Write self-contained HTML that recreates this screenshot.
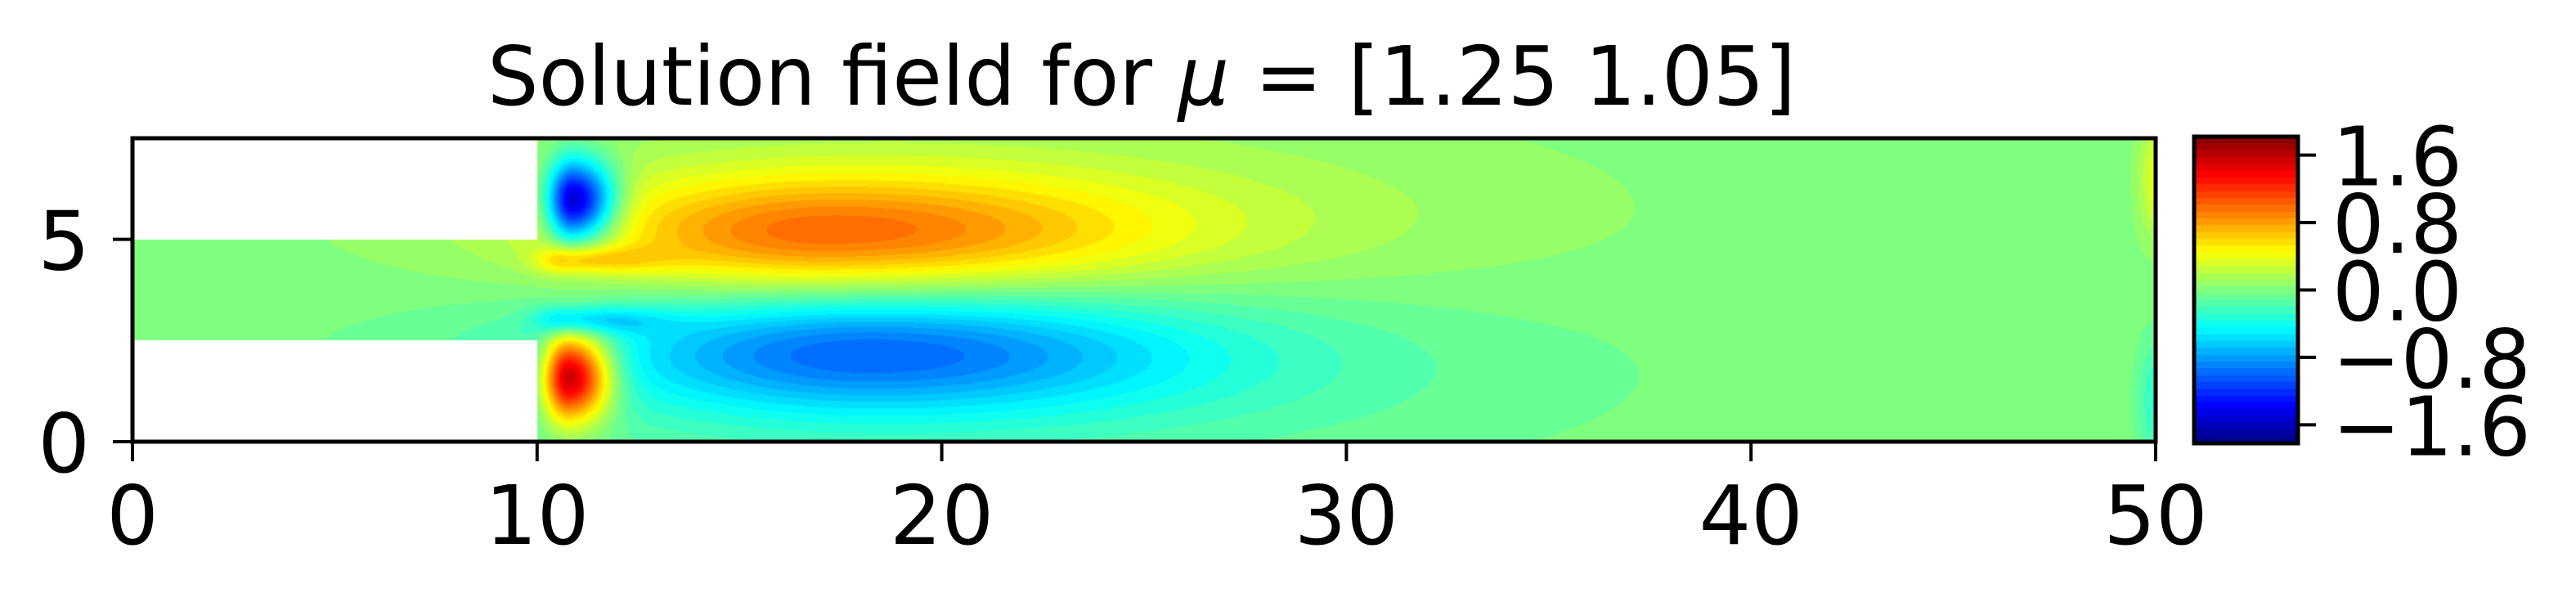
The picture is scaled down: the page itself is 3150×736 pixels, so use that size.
<!DOCTYPE html>
<html><head><meta charset="utf-8"><style>
html,body{margin:0;padding:0;background:#fff;}
#wrap{position:relative;width:3150px;height:736px;overflow:hidden;}
svg{position:absolute;left:0;top:0;}
canvas{position:absolute;}
</style></head><body>
<div id="wrap">
<canvas id="field"></canvas>
<canvas id="cbar"></canvas>
<svg id="svg" width="3150" height="736"></svg>
</div>
<script>
// ---- data ----
const xTicks = [0, 10, 20, 30, 40, 50];
const yTicks = [0, 5];
const cbTicks = [1.6, 0.8, 0.0, -0.8, -1.6];
const cbTickLabels = ["1.6", "0.8", "0.0", "\u22120.8", "\u22121.6"];
const vmin = -1.82, vmax = 1.82;
// flow field features: centre x, centre y, sigma-left, sigma-right, sigma-y, amplitude
const blobX   = [10.9, 10.8, 17.0, 10.7, 18.0, 10.7, 20.0, 20.0, 50.0, 50.0];
const blobY   = [5.95, 1.6, 5.1, 4.5, 2.25, 3.0, 5.4, 2.0, 6.5, 1.0];
const blobSL  = [0.45, 0.45, 4.0, 0.5, 4.5, 0.5, 8, 8, 0.3, 0.3];
const blobSR  = [0.7, 0.7, 5.5, 1.5, 5.5, 1.5, 9, 9, 0.3, 0.3];
const blobSY  = [0.7, 0.75, 1.0, 0.25, 1.05, 0.25, 1.8, 1.8, 1.0, 1.0];
const blobAmp = [-1.8, 1.85, 0.8, 0.55, -0.8, -0.6, 0.28, -0.28, 0.35, -0.3];

// ---- layout ----
const X0 = 162, X1 = 2636, Y0 = 540, Y1 = 169; // data x 0..50, y 0..7.5
const sx = v => X0 + (X1 - X0) * v / 50;
const sy = v => Y0 - (Y0 - Y1) * v / 7.5;
const CBX0 = 2683, CBX1 = 2810, CBY0 = 542, CBY1 = 167;
const cby = v => CBY0 - (CBY0 - CBY1) * (v - vmin) / (vmax - vmin);

function jet(t){
  t = Math.max(0, Math.min(1, t));
  const f = (a) => Math.max(0, Math.min(1, a));
  const r = f(1.5 - Math.abs(4*t - 3));
  const g = f(1.5 - Math.abs(4*t - 2));
  const b = f(1.5 - Math.abs(4*t - 1));
  return [r*255|0, g*255|0, b*255|0];
}
const NLEV = 45;
function colorOf(v){
  let t = (v - vmin) / (vmax - vmin);
  t = (Math.floor(t * NLEV) + 0.5) / NLEV;
  return jet(t);
}
function field(x, y){
  let v = 0;
  for (let i = 0; i < blobX.length; i++){
    const dx = x - blobX[i];
    const s = dx < 0 ? blobSL[i] : blobSR[i];
    const d = (dx*dx)/(s*s) + ((y-blobY[i])*(y-blobY[i]))/(blobSY[i]*blobSY[i]);
    v += blobAmp[i] * Math.exp(-0.5*d);
  }
  return v;
}

// field canvas
const fc = document.getElementById('field');
const W = X1 - X0, H = Y0 - Y1;
fc.width = W; fc.height = H;
fc.style.left = X0 + 'px'; fc.style.top = Y1 + 'px';
const ctx = fc.getContext('2d');
const img = ctx.createImageData(W, H);
for (let py = 0; py < H; py++){
  const y = 7.5 * (1 - (py + 0.5) / H);
  for (let px = 0; px < W; px++){
    const x = 50 * (px + 0.5) / W;
    const k = (py*W + px) * 4;
    if (x < 10 && (y > 5 || y < 2.5)){
      img.data[k]=255; img.data[k+1]=255; img.data[k+2]=255; img.data[k+3]=255; continue;
    }
    const c = colorOf(field(x, y));
    img.data[k]=c[0]; img.data[k+1]=c[1]; img.data[k+2]=c[2]; img.data[k+3]=255;
  }
}
ctx.putImageData(img, 0, 0);

// colorbar
const cc = document.getElementById('cbar');
cc.width = CBX1 - CBX0; cc.height = CBY0 - CBY1;
cc.style.left = CBX0 + 'px'; cc.style.top = CBY1 + 'px';
const c2 = cc.getContext('2d');
for (let py = 0; py < cc.height; py++){
  const v = vmax - (vmax - vmin) * (py + 0.5) / cc.height;
  const c = colorOf(v);
  c2.fillStyle = `rgb(${c[0]},${c[1]},${c[2]})`;
  c2.fillRect(0, py, cc.width, 1);
}

// svg axes
const svg = document.getElementById('svg');
const NS = 'http://www.w3.org/2000/svg';
function mk(tag, attrs, text){
  const e = document.createElementNS(NS, tag);
  for (const k in attrs) e.setAttribute(k, attrs[k]);
  if (text !== undefined) e.textContent = text;
  svg.appendChild(e);
  return e;
}
const FONT = '"DejaVu Sans","Liberation Sans",sans-serif';
let t = mk('text', {x: 1396, y: 128, 'font-family': FONT, 'font-size': 100, 'text-anchor': 'middle', textLength: 1600, lengthAdjust: 'spacingAndGlyphs'});


t.innerHTML = 'Solution field for <tspan font-style="italic">\u03bc</tspan> = [1.25 1.05]';

let frame = mk('rect', {x: X0, y: Y1, width: X1 - X0, height: Y0 - Y1, fill: 'none', stroke: '#000', 'stroke-width': 5});



xTicks.forEach(v => {
  const l = mk('line', {x1: sx(v), x2: sx(v), y1: Y0, y2: Y0 + 24, stroke: '#000', 'stroke-width': 4});
  
  
  const tx = mk('text', {x: sx(v), y: 665, 'font-family': FONT, 'font-size': 100, 'text-anchor': 'middle'}, String(v));
  
  
});
yTicks.forEach(v => {
  const l = mk('line', {x1: X0 - 24, x2: X0, y1: sy(v), y2: sy(v), stroke: '#000', 'stroke-width': 4});
  
  
  const tx = mk('text', {x: 110, y: sy(v) + 37, 'font-family': FONT, 'font-size': 100, 'text-anchor': 'end'}, String(v));
  
  
});
let cbf = mk('rect', {x: CBX0, y: CBY1, width: CBX1 - CBX0, height: CBY0 - CBY1, fill: 'none', stroke: '#000', 'stroke-width': 5});


cbTicks.forEach((v, i) => {
  const l = mk('line', {x1: CBX1, x2: CBX1 + 22, y1: cby(v), y2: cby(v), stroke: '#000', 'stroke-width': 4});
  
  
  const tx = mk('text', {x: 2852, y: cby(v) + 37, 'font-family': FONT, 'font-size': 100}, cbTickLabels[i]);
  
  
});
</script>
</body></html>
